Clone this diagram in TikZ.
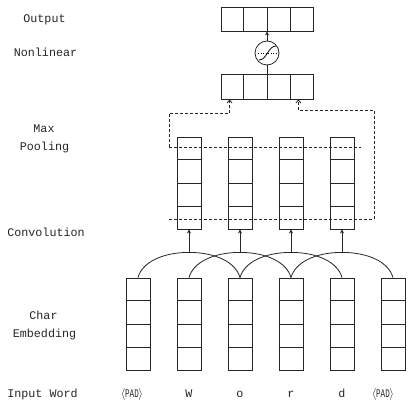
\documentclass[tikz,border=0pt]{standalone}
\usepackage{fontspec}
\setmainfont{Liberation Mono}
\usetikzlibrary{arrows.meta,calc}
\begin{document}
\begin{tikzpicture}[x=1pt,y=-1pt,
  ln/.style={line width=0.8pt, draw=black!85},
  col/.style={ln, rectangle, inner sep=0pt, minimum width=24pt, minimum height=92pt},
  vec/.style={ln, rectangle, inner sep=0pt, minimum width=92pt, minimum height=24pt},
  lbl/.style={font=\fontsize{11.7}{14}\selectfont, text=black!85, inner sep=0pt, anchor=base},
  dsh/.style={ln, dash pattern=on 3pt off 2pt},
  tip/.style={-{Stealth[length=4pt,width=4pt]}},
  otip/.style={-{Straight Barb[length=3pt,width=5pt]}}
]
\useasboundingbox (0,0) rectangle (412,406);

% character embedding columns
\foreach \i/\x in {1/138,2/189,3/240,4/291,5/342,6/393}
  \node[col] (e\i) at (\x,324) {};
% convolution output columns
\foreach \i/\x in {1/189,2/240,3/291,4/342}
  \node[col] (c\i) at (\x,183) {};
% cell dividers of the columns
\foreach \n in {e1,e2,e3,e4,e5,e6,c1,c2,c3,c4}
  \foreach \f in {0.25,0.5,0.75}
    \draw[ln] ($(\n.north west)!\f!(\n.south west)$) -- ($(\n.north east)!\f!(\n.south east)$);

% pooled vector and output vector
\node[vec, minimum height=25pt] (h) at (267,86.5) {};
\node[vec] (o) at (267,19) {};
\foreach \n in {h,o}
  \foreach \f in {0.25,0.5,0.75}
    \draw[ln] ($(\n.north west)!\f!(\n.north east)$) -- ($(\n.south west)!\f!(\n.south east)$);

% nonlinearity
\node[ln, circle, minimum size=24pt, inner sep=0pt] (s) at (267,53) {};
\draw[line width=0.5pt, dotted] ($(s.center)+(-9,0.5)$) -- ($(s.center)+(9,0.5)$);
\draw[line width=0.8pt] ($(s.center)+(-8,7)$) .. controls +(8,0) and +(-8,0) .. ($(s.center)+(9,-7)$);
\draw[ln] (h.north) -- (s.south);
\draw[ln, tip] (s.north) -- (o.south);

% convolution windows over three characters
\foreach \i/\j in {1/3,2/4,3/5,4/6} {
  \coordinate (p\i) at ($(c\i.south)+(0,23)$);
  \draw[ln] (e\i.north) .. controls +(4,-15) and +(-27,0) .. (p\i)
                        .. controls +(27,0) and +(-4,-15) .. (e\j.north);
  \draw[ln, tip] (p\i) -- (c\i.south);
}

% max pooling region and its routes
\coordinate (ul) at (169,147);
\coordinate (ur) at (361,147);
\coordinate (ll) at (169,219);
\coordinate (lr) at (374,219);
\draw[dsh] (ul) -- (ur);
\draw[dsh] (ll) -- (lr);
\draw[dsh, otip] (ul) |- ($(h.south west)+(9,14)$) -- ($(h.south west)+(9,0)$);
\draw[dsh, otip] (lr) |- ($(h.south east)+(-15,11)$) -- ($(h.south east)+(-15,0)$);

% layer names
\node[lbl] (lOut) at (44.5,23) {Output};
\node[lbl] (lNon) at (45.5,57) {Nonlinear};
\node[lbl] (lMax) at (44,132.5) {Max};
\node[lbl] (lPool) at (44.5,150.5) {Pooling};
\node[lbl] (lConv) at (46,236.5) {Convolution};
\node[lbl] (lChar) at (43.5,319) {Char};
\node[lbl] (lEmb) at (44.5,337) {Embedding};
\node[lbl] (lIn) at (42.5,397) {Input Word};

% input characters
\newcommand{\padtok}{$\langle$\kern-0.5pt\scalebox{0.65}[1]{PAD}\kern-0.5pt$\rangle$}
\node[lbl] (w1) at (132,397) {\padtok};
\node[lbl] (w2) at (189,397) {W};
\node[lbl] (w3) at (240,397) {o};
\node[lbl] (w4) at (291,397) {r};
\node[lbl] (w5) at (342,397) {d};
\node[lbl] (w6) at (383,397) {\padtok};
\end{tikzpicture}
\end{document}
